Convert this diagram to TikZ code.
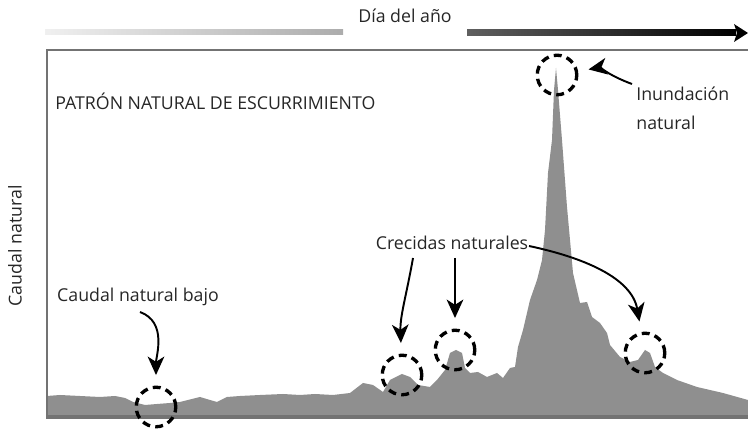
\documentclass[tikz,border=0pt]{standalone}
\usepackage{fontspec}
\setmainfont{Open Sans}
\usetikzlibrary{arrows.meta}
\definecolor{flowgray}{gray}{0.56}
\definecolor{framegray}{gray}{0.45}

\begin{document}
\begin{tikzpicture}[x=0.02cm,y=-0.02cm,
	lbl/.style={inner sep=0pt,text=black!85,font=\fontsize{10.1pt}{16.4pt}\selectfont},
	flood/.style={draw=black,circle,dash pattern=on 4.5pt off 3pt,line width=1.9pt,minimum size=22.5pt,inner sep=0pt},
	pointer/.style={->,>={Stealth[length=10.5pt,width=9.5pt,inset=3pt]},draw=black,line width=1.1pt,shorten >=6pt}]

	\useasboundingbox (0,0) rectangle (748,431);

	% caudal
	\fill[flowgray] (47,417) -- (47,396) -- (60,395) -- (80,396) -- (100,397) -- (115,396) -- (125,398)
		-- (133,402) -- (145,405) -- (157,404) -- (170,403) -- (180,402) -- (192,399) -- (200,397)
		-- (210,400) -- (217,402) -- (227,397) -- (240,396) -- (260,395) -- (283,394) -- (300,395)
		-- (315,394) -- (333,395) -- (350,393) -- (363,383) -- (373,385) -- (383,392) -- (390,380)
		-- (402,374) -- (410,377) -- (418,385) -- (430,387) -- (437,380) -- (445,370) -- (450,353)
		-- (456,350) -- (462,353) -- (465,368) -- (470,373) -- (478,372) -- (487,377) -- (497,373)
		-- (503,378) -- (510,368) -- (515,367) -- (518,347) -- (523,330) -- (530,300) -- (537,280)
		-- (542,260) -- (545,230) -- (548,173) -- (552,140) -- (554,90) -- (556,68) -- (558,90)
		-- (562,140) -- (567,207) -- (570,240) -- (573,273) -- (580,303) -- (587,302) -- (592,317)
		-- (600,323) -- (607,333) -- (610,345) -- (620,357) -- (630,362) -- (638,360) -- (645,350)
		-- (650,353) -- (655,367) -- (663,373) -- (677,380) -- (697,387) -- (723,393) -- (748,400)
		-- (748,417) -- cycle;

	% marco
	\draw[framegray,line width=1.2pt] (47,417) -- (47,50) -- (748,50);
	\draw[framegray,line width=1.8pt] (46,417) -- (748,417);

	% eje del tiempo
	\node[lbl] (dia) at (405,16) {Día del año};
	\shade[left color=gray!12,right color=gray!65] (45,30) rectangle (343,35);
	\shade[left color=gray!75!black,right color=black] (467,30) rectangle (736,36);
	\fill[black] (734,24) -- (748,33) -- (734,42) -- (737,33) -- cycle;

	\node[lbl,rotate=90] (caudal) at (15,246) {Caudal natural};
	\node[lbl,anchor=west] (patron) at (55,101) {PATRÓN NATURAL DE ESCURRIMIENTO};

	\node[flood] (bajo) at (156,407) {};
	\node[flood] (c1) at (402,375) {};
	\node[flood] (c2) at (455,350) {};
	\node[flood] (c3) at (645,353) {};
	\node[flood] (pico) at (557,75) {};

	\node[lbl] (bajolbl) at (138,297) {Caudal natural bajo};
	\node[lbl] (crecidas) at (452,243) {Crecidas naturales};
	\node[lbl,align=left,anchor=north west] (inund) at (636,87) {Inundación\\natural};

	\coordinate (s0) at (140,312);
	\coordinate (s1) at (413,258);
	\coordinate (s2) at (455,258);
	\coordinate (s3) at (529,246);
	\coordinate (s4) at (632,84);

	\path[pointer] (s0) to[out=-20,in=90] (bajo);
	\path[pointer] (s1) to[out=-100,in=92] (c1);
	\path[pointer] (s2) to (c2);
	\path[pointer] (s3) to[out=-12,in=100] (c3);
	\path[pointer] (s4) to[out=160,in=10] (pico);

\end{tikzpicture}
\end{document}
